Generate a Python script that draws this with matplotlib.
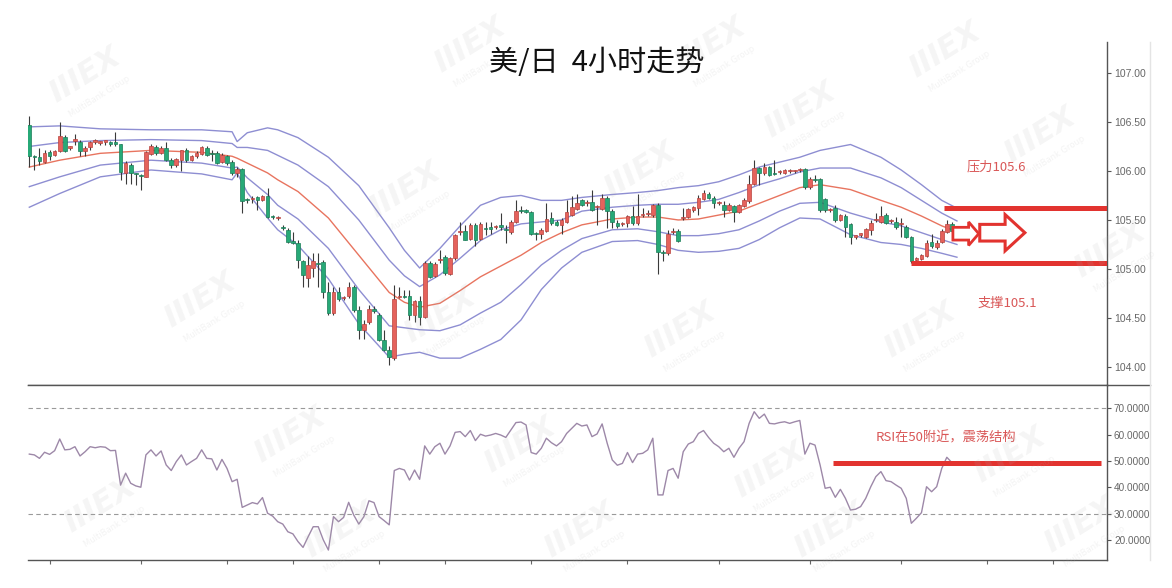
import matplotlib
matplotlib.use("Agg")

import matplotlib.pyplot as plt
import numpy as np
from matplotlib.patches import FancyArrow
from matplotlib.lines import Line2D

plt.rcParams['font.family'] = ['Noto Sans CJK SC', 'DejaVu Sans']

# ---- 4H candles (USD/JPY) ----
opens = [106.47, 106.15, 106.14, 106.09, 106.19, 106.16, 106.20, 106.35, 106.23, 106.31,
         106.30, 106.20, 106.24, 106.30, 106.29, 106.30, 106.30, 106.29, 106.28, 105.98,
         106.06, 105.98, 105.96, 105.94, 106.17, 106.24, 106.18, 106.23, 106.11, 106.06,
         106.11, 106.21, 106.11, 106.15, 106.17, 106.23, 106.18, 106.18, 106.09, 106.15,
         106.09, 105.98, 106.02, 105.71, 105.71, 105.73, 105.70, 105.74, 105.54, 105.52,
         105.43, 105.40, 105.28, 105.26, 105.08, 104.91, 105.01, 105.06, 105.07, 104.77,
         104.55, 104.77, 104.70, 104.72, 104.82, 104.58, 104.38, 104.46, 104.59, 104.53,
         104.28, 104.17, 104.09, 104.71, 104.72, 104.72, 104.53, 104.67, 104.51, 105.06,
         104.93, 105.09, 105.12, 104.95, 105.11, 105.38, 105.39, 105.31, 105.45, 105.31,
         105.42, 105.43, 105.43, 105.45, 105.41, 105.38, 105.48, 105.60, 105.60, 105.58,
         105.37, 105.36, 105.39, 105.52, 105.48, 105.45, 105.48, 105.55, 105.61, 105.70,
         105.67, 105.68, 105.63, 105.61, 105.72, 105.59, 105.47, 105.46, 105.47, 105.54,
         105.47, 105.55, 105.56, 105.55, 105.65, 105.17, 105.16, 105.38, 105.39, 105.52,
         105.53, 105.60, 105.62, 105.71, 105.77, 105.72, 105.67, 105.65, 105.60, 105.64,
         105.58, 105.64, 105.69, 105.87, 106.03, 105.98, 106.04, 105.98, 105.99, 105.98,
         106.00, 106.00, 106.01, 106.02, 105.84, 105.92, 105.92, 105.71, 105.60, 105.62,
         105.50, 105.54, 105.46, 105.33, 105.35, 105.33, 105.40, 105.50, 105.48, 105.55,
         105.49, 105.48, 105.46, 105.43, 105.33, 105.09, 105.10, 105.13, 105.28, 105.22,
         105.28, 105.38, 105.46]
highs = [106.56, 106.16, 106.23, 106.21, 106.21, 106.21, 106.50, 106.37, 106.25, 106.38,
         106.32, 106.25, 106.31, 106.33, 106.31, 106.32, 106.31, 106.40, 106.28, 106.10,
         106.08, 105.98, 105.97, 106.20, 106.28, 106.27, 106.25, 106.30, 106.13, 106.13,
         106.21, 106.23, 106.16, 106.20, 106.25, 106.25, 106.21, 106.20, 106.18, 106.16,
         106.11, 106.04, 106.03, 105.72, 105.74, 105.74, 105.75, 105.83, 105.55, 105.54,
         105.45, 105.42, 105.38, 105.30, 105.09, 105.13, 105.16, 105.16, 105.09, 104.87,
         104.82, 104.82, 104.72, 104.87, 104.84, 104.62, 104.48, 104.63, 104.62, 104.55,
         104.38, 104.21, 104.84, 104.82, 104.79, 104.79, 104.68, 104.72, 105.08, 105.08,
         105.07, 105.19, 105.14, 105.12, 105.36, 105.48, 105.45, 105.47, 105.47, 105.48,
         105.48, 105.48, 105.45, 105.57, 105.45, 105.50, 105.70, 105.64, 105.61, 105.59,
         105.38, 105.42, 105.67, 105.58, 105.50, 105.52, 105.70, 105.74, 105.76, 105.71,
         105.70, 105.81, 105.65, 105.76, 105.74, 105.61, 105.50, 105.48, 105.55, 105.64,
         105.76, 105.62, 105.60, 105.66, 105.67, 105.19, 105.40, 105.42, 105.41, 105.62,
         105.62, 105.64, 105.75, 105.81, 105.79, 105.74, 105.69, 105.69, 105.67, 105.65,
         105.66, 105.72, 105.96, 106.11, 106.04, 106.08, 106.05, 106.11, 106.01, 106.02,
         106.02, 106.01, 106.03, 106.03, 105.94, 105.96, 105.93, 105.72, 105.62, 105.65,
         105.56, 105.56, 105.47, 105.35, 105.37, 105.42, 105.50, 105.57, 105.64, 105.57,
         105.51, 105.53, 105.52, 105.45, 105.34, 105.12, 105.15, 105.30, 105.36, 105.30,
         105.41, 105.50, 105.48]
lows = [106.04, 106.01, 106.06, 106.08, 106.11, 106.15, 106.19, 106.19, 106.21, 106.26,
        106.15, 106.15, 106.21, 106.28, 106.27, 106.27, 106.25, 106.25, 105.91, 105.87,
        105.87, 105.86, 105.81, 105.94, 106.16, 106.16, 106.17, 106.10, 106.03, 106.04,
        106.00, 106.09, 106.10, 106.13, 106.16, 106.15, 106.10, 106.07, 106.08, 106.06,
        105.96, 105.94, 105.57, 105.67, 105.67, 105.60, 105.69, 105.52, 105.51, 105.50,
        105.40, 105.26, 105.25, 105.01, 104.82, 104.82, 104.92, 104.82, 104.70, 104.53,
        104.53, 104.67, 104.68, 104.70, 104.56, 104.29, 104.29, 104.44, 104.55, 104.26,
        104.16, 104.02, 104.07, 104.70, 104.70, 104.48, 104.46, 104.43, 104.50, 104.91,
        104.92, 105.06, 104.94, 104.94, 105.09, 105.35, 105.30, 105.30, 105.23, 105.30,
        105.35, 105.36, 105.41, 105.40, 105.26, 105.36, 105.47, 105.57, 105.57, 105.35,
        105.30, 105.31, 105.38, 105.45, 105.44, 105.36, 105.47, 105.54, 105.60, 105.64,
        105.64, 105.59, 105.45, 105.60, 105.42, 105.42, 105.42, 105.44, 105.43, 105.45,
        105.45, 105.53, 105.54, 105.53, 104.95, 105.08, 105.14, 105.36, 105.28, 105.50,
        105.52, 105.58, 105.55, 105.70, 105.71, 105.62, 105.65, 105.53, 105.59, 105.48,
        105.57, 105.63, 105.67, 105.86, 105.86, 105.96, 105.95, 105.96, 105.97, 105.97,
        105.98, 105.98, 105.99, 105.82, 105.82, 105.89, 105.58, 105.58, 105.58, 105.48,
        105.49, 105.33, 105.25, 105.31, 105.33, 105.32, 105.35, 105.48, 105.47, 105.46,
        105.47, 105.41, 105.33, 105.32, 105.06, 105.07, 105.09, 105.12, 105.21, 105.20,
        105.26, 105.37, 105.38]
closes = [106.15, 106.14, 106.10, 106.18, 106.15, 106.20, 106.36, 106.20, 106.25, 106.32,
          106.20, 106.23, 106.30, 106.31, 106.29, 106.31, 106.28, 106.28, 105.99, 106.08,
          105.98, 105.97, 105.95, 106.19, 106.25, 106.18, 106.23, 106.11, 106.06, 106.12,
          106.21, 106.11, 106.15, 106.18, 106.24, 106.16, 106.17, 106.08, 106.16, 106.08,
          105.98, 106.02, 105.69, 105.70, 105.72, 105.70, 105.74, 105.53, 105.53, 105.52,
          105.42, 105.28, 105.27, 105.09, 104.94, 105.04, 105.08, 105.05, 104.77, 104.55,
          104.77, 104.69, 104.70, 104.82, 104.58, 104.38, 104.44, 104.59, 104.57, 104.28,
          104.17, 104.10, 104.69, 104.72, 104.71, 104.53, 104.67, 104.51, 105.06, 104.92,
          105.05, 105.10, 104.96, 105.11, 105.35, 105.38, 105.30, 105.45, 105.30, 105.46,
          105.41, 105.41, 105.43, 105.43, 105.40, 105.48, 105.59, 105.59, 105.58, 105.36,
          105.36, 105.40, 105.51, 105.47, 105.45, 105.50, 105.58, 105.63, 105.67, 105.65,
          105.67, 105.60, 105.63, 105.72, 105.59, 105.48, 105.44, 105.47, 105.54, 105.47,
          105.54, 105.55, 105.56, 105.65, 105.17, 105.16, 105.36, 105.39, 105.29, 105.53,
          105.61, 105.63, 105.72, 105.78, 105.72, 105.67, 105.67, 105.60, 105.65, 105.58,
          105.65, 105.70, 105.87, 106.03, 105.98, 106.04, 105.96, 105.97, 105.99, 106.01,
          106.00, 106.00, 106.02, 105.84, 105.92, 105.91, 105.60, 105.60, 105.60, 105.50,
          105.55, 105.43, 105.33, 105.33, 105.35, 105.41, 105.47, 105.51, 105.54, 105.47,
          105.49, 105.43, 105.47, 105.33, 105.08, 105.11, 105.14, 105.27, 105.23, 105.27,
          105.39, 105.46, 105.39]

# ---- Bollinger lines, sampled at candle indices ----
band_idx = [0, 6, 14, 24, 34, 40, 41, 43, 47, 49, 53, 59, 65, 71, 74, 77, 81, 85, 89, 93,
            97, 101, 105, 109, 115, 120, 124, 128, 132, 136, 140, 144, 148, 152, 156, 162,
            168, 172, 176, 180, 183]
upper2 = [106.45, 106.46, 106.43, 106.42, 106.42, 106.40, 106.30, 106.39, 106.44, 106.42,
          106.34, 106.14, 105.85, 105.42, 105.19, 105.01, 105.21, 105.44, 105.65, 105.73,
          105.75, 105.70, 105.70, 105.73, 105.76, 105.78, 105.80, 105.83, 105.85, 105.89,
          105.96, 106.04, 106.09, 106.14, 106.21, 106.27, 106.14, 106.01, 105.86, 105.70,
          105.62]
upper1 = [106.25, 106.29, 106.31, 106.32, 106.31, 106.28, 106.24, 106.24, 106.21, 106.16,
          106.06, 105.84, 105.50, 105.09, 104.93, 104.82, 104.94, 105.11, 105.29, 105.40,
          105.46, 105.48, 105.50, 105.59, 105.63, 105.65, 105.66, 105.66, 105.68, 105.71,
          105.78, 105.86, 105.92, 105.99, 106.03, 106.03, 105.93, 105.83, 105.70, 105.57,
          105.49]
middle = [106.04, 106.11, 106.18, 106.21, 106.19, 106.15, 106.13, 106.08, 105.98, 105.91,
          105.79, 105.52, 105.14, 104.76, 104.66, 104.61, 104.65, 104.78, 104.92, 105.03,
          105.14, 105.27, 105.37, 105.45, 105.51, 105.53, 105.53, 105.50, 105.51, 105.55,
          105.59, 105.67, 105.75, 105.83, 105.86, 105.81, 105.70, 105.63, 105.54, 105.44,
          105.38]
lower1 = [105.84, 105.94, 106.06, 106.11, 106.08, 106.03, 106.04, 105.93, 105.76, 105.65,
          105.51, 105.21, 104.79, 104.42, 104.40, 104.38, 104.37, 104.43, 104.55, 104.66,
          104.84, 105.04, 105.19, 105.31, 105.40, 105.41, 105.38, 105.34, 105.34, 105.36,
          105.40, 105.49, 105.59, 105.67, 105.68, 105.57, 105.48, 105.44, 105.37, 105.30,
          105.25]
lower2 = [105.63, 105.77, 105.94, 106.01, 105.97, 105.91, 105.98, 105.78, 105.52, 105.40,
          105.24, 104.90, 104.44, 104.10, 104.13, 104.15, 104.09, 104.09, 104.18, 104.28,
          104.48, 104.79, 105.01, 105.17, 105.28, 105.29, 105.25, 105.19, 105.17, 105.18,
          105.21, 105.30, 105.42, 105.52, 105.51, 105.35, 105.27, 105.25, 105.21, 105.16,
          105.12]

# ---- RSI per candle ----
rsi = [52.6, 52.3, 51.0, 53.3, 52.5, 53.9, 58.3, 54.2, 54.4, 55.4,
       51.9, 53.5, 55.4, 55.0, 55.4, 55.2, 53.9, 54.0, 40.9, 45.4,
       41.6, 40.6, 40.1, 52.3, 54.2, 51.9, 53.8, 48.5, 46.4, 49.8,
       52.3, 48.5, 49.8, 51.0, 54.2, 51.0, 50.8, 46.6, 50.6, 47.2,
       42.2, 43.1, 32.5, 33.4, 34.3, 33.8, 36.2, 30.3, 29.2, 27.1,
       26.2, 23.3, 22.5, 19.6, 17.4, 21.4, 25.2, 25.2, 20.2, 16.4,
       29.0, 27.1, 28.7, 34.4, 29.6, 26.2, 29.0, 35.0, 34.3, 29.0,
       27.5, 25.9, 46.4, 47.2, 46.6, 42.8, 46.6, 43.1, 55.7, 52.6,
       55.4, 56.7, 52.6, 55.7, 60.8, 61.1, 59.2, 61.5, 57.7, 60.1,
       59.4, 59.8, 60.4, 59.8, 58.9, 61.7, 64.5, 64.7, 63.6, 53.2,
       52.6, 54.8, 58.6, 56.9, 55.7, 57.3, 60.4, 62.3, 64.2, 63.2,
       63.6, 59.2, 60.2, 64.0, 56.7, 50.4, 48.4, 49.1, 53.2, 49.4,
       52.6, 52.9, 54.2, 58.6, 37.2, 37.2, 46.4, 47.2, 43.5, 53.5,
       56.4, 57.3, 60.4, 61.5, 58.9, 56.7, 55.4, 53.5, 54.8, 51.4,
       54.8, 57.3, 64.2, 68.6, 66.1, 67.7, 64.2, 64.0, 64.5, 64.8,
       64.2, 64.8, 65.3, 52.6, 56.7, 56.0, 48.5, 39.7, 40.1, 36.3,
       39.3, 35.9, 31.5, 31.8, 32.8, 35.9, 40.3, 44.1, 46.0, 42.6,
       42.2, 40.9, 39.7, 35.9, 26.5, 28.4, 30.5, 40.3, 38.4, 40.3,
       47.2, 51.4, 49.4]

price_ticks = [104.0, 104.5, 105.0, 105.5, 106.0, 106.5, 107.0]
rsi_ticks = [20, 30, 40, 50, 60, 70]
day_ticks = [4, 22, 39, 52, 69, 82, 99, 118, 136, 154, 172, 189, 202]

resistance = 105.62
support = 105.06
rsi_mark = 49.3

RED_UP = "#e5625c"
RED_EDGE = "#b8433e"
GREEN_DN = "#27a977"
GREEN_EDGE = "#1b7c57"
BAND = "#8e8ed2"
MID = "#e8745f"
ANNOT = "#e2332f"
TXT = "#d95757"
NUMFONT = ["Liberation Sans", "DejaVu Sans"]

W, H = 1172, 588
fig = plt.figure(figsize=(W / 100, H / 100), dpi=100)
left, right = 28 / W, 1107 / W
ax = fig.add_axes([left, 1 - 385 / H, right - left, (385 - 42) / H])
ax2 = fig.add_axes([left, 1 - 560 / H, right - left, (560 - 385) / H])

n = len(closes)
x = np.arange(n)
o = np.array(opens); c = np.array(closes)
hi = np.array(highs); lo = np.array(lows)
up = c >= o
bottom = np.minimum(o, c)
height = np.maximum(np.abs(c - o), 0.012)

ax.vlines(x, lo, hi, color="#3a3a3a", lw=0.8, zorder=2)
ax.bar(x[up], height[up], bottom=bottom[up], width=0.72, color=RED_UP,
       edgecolor=RED_EDGE, lw=0.5, zorder=3)
ax.bar(x[~up], height[~up], bottom=bottom[~up], width=0.72, color=GREEN_DN,
       edgecolor=GREEN_EDGE, lw=0.5, zorder=3)

for band in (upper2, upper1, lower1, lower2):
    ax.plot(band_idx, band, color=BAND, lw=1.0, zorder=1)
ax.plot(band_idx, middle, color=MID, lw=1.0, zorder=1)

xmin, xmax = -0.26, 212.6
ax.set_xlim(xmin, xmax)
ax.set_ylim(103.816, 107.316)

# support / resistance marks
ax.hlines(resistance, 180.4, xmax, color=ANNOT, lw=3.6, zorder=4)
ax.hlines(support, 173.9, xmax, color=ANNOT, lw=3.6, zorder=4)
ax.text(190.7, 106.04, "压力105.6", color=TXT, fontsize=9.5, ha="center", va="center")
ax.text(193.0, 104.65, "支撑105.1", color=TXT, fontsize=9.5, ha="center", va="center")

# hollow arrows
ax.add_patch(FancyArrow(182.2, 105.36, 5.1, 0, width=0.13, head_width=0.24,
                        head_length=2.0, length_includes_head=True,
                        facecolor="white", edgecolor=ANNOT, lw=2.0, zorder=5))
ax.add_patch(FancyArrow(187.5, 105.37, 8.9, 0, width=0.17, head_width=0.37,
                        head_length=3.9, length_includes_head=True,
                        facecolor="white", edgecolor=ANNOT, lw=2.2, zorder=5))

# RSI panel
ax2.plot(x, rsi, color="#9d88a8", lw=1.0, zorder=2)
for lvl in (70, 30):
    ax2.axhline(lvl, color="#9a9a9a", lw=0.8, ls=(0, (4, 3)), zorder=1)
ax2.hlines(rsi_mark, 158.5, 211.4, color=ANNOT, lw=3.6, zorder=4)
ax2.text(180.8, 58.7, "RSI在50附近，震荡结构", color=TXT, fontsize=9.5,
         ha="center", va="center")
ax2.set_xlim(xmin, xmax)
ax2.set_ylim(12.64, 78.68)

# axes cosmetics
for a in (ax, ax2):
    a.spines["left"].set_visible(False)
    for s in ("right", "bottom", "top"):
        a.spines[s].set_color("#555555")
        a.spines[s].set_linewidth(1.0)
    a.yaxis.tick_right()
    a.tick_params(axis="y", direction="out", length=3, width=0.8, colors="#555555",
                  labelcolor="#666666", labelsize=7.5, pad=2)
ax.spines["top"].set_visible(False)

ax.set_xticks([])
ax.set_yticks(price_ticks)
ax.set_yticklabels([f"{v:.2f}" for v in price_ticks], family=NUMFONT)
ax2.set_yticks(rsi_ticks)
ax2.set_yticklabels([f"{v:.4f}" for v in rsi_ticks], family=NUMFONT, fontsize=7.2)
ax2.set_xticks(day_ticks)
ax2.set_xticklabels([])
ax2.tick_params(axis="x", direction="out", length=3, width=0.8, colors="#666666")

# separator continuation and faint frame line on the right
fig.add_artist(Line2D([1107 / W, 1150 / W], [1 - 385 / H] * 2, color="#555555", lw=1.0))
fig.add_artist(Line2D([1150 / W] * 2, [1 - 42 / H, 1 - 560 / H], color="#e4e4e4", lw=1.0))

# title
fig.text(597 / W, 1 - 63 / H, "美/日  4小时走势", fontsize=21, color="#111111",
         ha="center", va="center")

# faint watermark, kept inside the canvas
marks = [(85, 75), (470, 45), (710, 45), (945, 50), (800, 110), (1040, 135), (405, 190),
         (640, 170), (200, 300), (440, 315), (680, 330), (920, 330), (1110, 250),
         (100, 505), (290, 435), (520, 445), (770, 470), (1010, 455), (340, 530),
         (580, 530), (830, 530), (1080, 525)]
for px, py in marks:
    fig.text(px / W, 1 - py / H, "IIIEX", fontsize=22, fontweight="bold", style="italic",
             color="#b0b0b0", alpha=0.13, rotation=32, ha="center", va="center",
             family=["DejaVu Sans"])
    fig.text((px + 14) / W, 1 - (py + 22) / H, "MultiBank Group", fontsize=6,
             color="#b0b0b0", alpha=0.15, rotation=32, ha="center", va="center",
             family=["DejaVu Sans"])

fig.savefig("out.png", dpi=100)
